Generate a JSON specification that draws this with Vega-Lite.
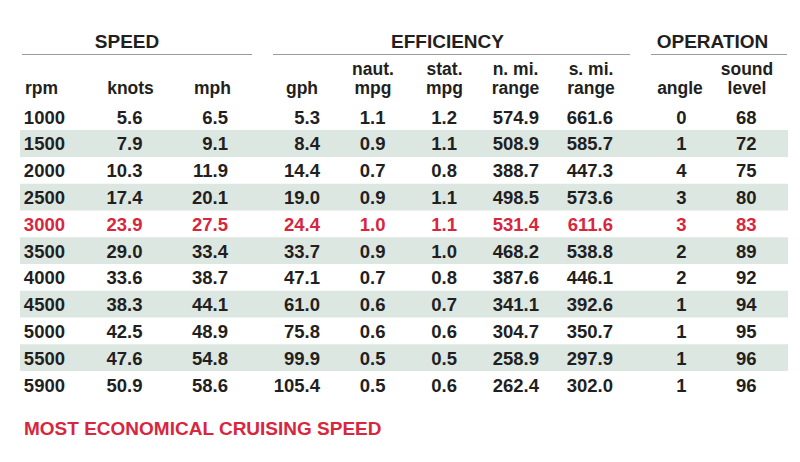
{
  "$schema": "https://vega.github.io/schema/vega-lite/v6.json",
  "width": 800,
  "height": 462,
  "autosize": {"type": "fit", "contains": "padding"},
  "padding": 0,
  "background": "white",
  "config": {"view": {"stroke": null}, "axis": {"disable": true}, "text": {"font": "Liberation Sans", "fontWeight": "bold"}},
  "datasets": {
    "table": [
      {"i": 0, "rpm": "1000", "knots": "5.6", "mph": "6.5", "gph": "5.3", "nautMpg": "1.1", "statMpg": "1.2", "nmiRange": "574.9", "smiRange": "661.6", "angle": "0", "sound": "68"},
      {"i": 1, "rpm": "1500", "knots": "7.9", "mph": "9.1", "gph": "8.4", "nautMpg": "0.9", "statMpg": "1.1", "nmiRange": "508.9", "smiRange": "585.7", "angle": "1", "sound": "72"},
      {"i": 2, "rpm": "2000", "knots": "10.3", "mph": "11.9", "gph": "14.4", "nautMpg": "0.7", "statMpg": "0.8", "nmiRange": "388.7", "smiRange": "447.3", "angle": "4", "sound": "75"},
      {"i": 3, "rpm": "2500", "knots": "17.4", "mph": "20.1", "gph": "19.0", "nautMpg": "0.9", "statMpg": "1.1", "nmiRange": "498.5", "smiRange": "573.6", "angle": "3", "sound": "80"},
      {"i": 4, "rpm": "3000", "knots": "23.9", "mph": "27.5", "gph": "24.4", "nautMpg": "1.0", "statMpg": "1.1", "nmiRange": "531.4", "smiRange": "611.6", "angle": "3", "sound": "83"},
      {"i": 5, "rpm": "3500", "knots": "29.0", "mph": "33.4", "gph": "33.7", "nautMpg": "0.9", "statMpg": "1.0", "nmiRange": "468.2", "smiRange": "538.8", "angle": "2", "sound": "89"},
      {"i": 6, "rpm": "4000", "knots": "33.6", "mph": "38.7", "gph": "47.1", "nautMpg": "0.7", "statMpg": "0.8", "nmiRange": "387.6", "smiRange": "446.1", "angle": "2", "sound": "92"},
      {"i": 7, "rpm": "4500", "knots": "38.3", "mph": "44.1", "gph": "61.0", "nautMpg": "0.6", "statMpg": "0.7", "nmiRange": "341.1", "smiRange": "392.6", "angle": "1", "sound": "94"},
      {"i": 8, "rpm": "5000", "knots": "42.5", "mph": "48.9", "gph": "75.8", "nautMpg": "0.6", "statMpg": "0.6", "nmiRange": "304.7", "smiRange": "350.7", "angle": "1", "sound": "95"},
      {"i": 9, "rpm": "5500", "knots": "47.6", "mph": "54.8", "gph": "99.9", "nautMpg": "0.5", "statMpg": "0.5", "nmiRange": "258.9", "smiRange": "297.9", "angle": "1", "sound": "96"},
      {"i": 10, "rpm": "5900", "knots": "50.9", "mph": "58.6", "gph": "105.4", "nautMpg": "0.5", "statMpg": "0.6", "nmiRange": "262.4", "smiRange": "302.0", "angle": "1", "sound": "96"}
    ],
    "cols": [
      {"key": "rpm", "c": 0, "h1": "", "h2": "rpm"},
      {"key": "knots", "c": 1, "h1": "", "h2": "knots"},
      {"key": "mph", "c": 2, "h1": "", "h2": "mph"},
      {"key": "gph", "c": 3, "h1": "", "h2": "gph"},
      {"key": "nautMpg", "c": 4, "h1": "naut.", "h2": "mpg"},
      {"key": "statMpg", "c": 5, "h1": "stat.", "h2": "mpg"},
      {"key": "nmiRange", "c": 6, "h1": "n. mi.", "h2": "range"},
      {"key": "smiRange", "c": 7, "h1": "s. mi.", "h2": "range"},
      {"key": "angle", "c": 8, "h1": "", "h2": "angle"},
      {"key": "sound", "c": 9, "h1": "sound", "h2": "level"}
    ]
  },
  "layer": [
    {
      "layer": [
        {
          "data": {"name": "table"},
          "transform": [{"filter": "datum.i % 2 === 1"}],
          "mark": {"type": "rule", "strokeWidth": 26.8, "color": "#dde7e2", "strokeCap": "butt"},
          "encoding": {
            "x": {"datum": -1, "type": "quantitative", "scale": {"domain": [-1, 0, 1, 2, 3, 4, 5, 6, 7, 8, 9, 10], "range": [20, 41.5, 130.5, 212.5, 302, 373, 444.5, 515.5, 591, 680, 747, 788], "nice": false, "zero": false}, "axis": null},
            "x2": {"datum": 10},
            "y": {"field": "i", "type": "quantitative", "scale": {"domain": [-4.358, 12.894], "range": [0, 462], "nice": false, "zero": false}, "axis": null}
          }
        },
        {
          "data": {"values": [{}]},
          "mark": {"type": "rule", "strokeWidth": 1, "color": "#9a9a9a"},
          "encoding": {
            "x": {"datum": -0.907, "type": "quantitative"},
            "x2": {"datum": 2.441},
            "y": {"datum": -2.323, "type": "quantitative"}
          }
        },
        {
          "data": {"values": [{}]},
          "mark": {"type": "rule", "strokeWidth": 1, "color": "#9a9a9a"},
          "encoding": {
            "x": {"datum": 2.676, "type": "quantitative"},
            "x2": {"datum": 7.438},
            "y": {"datum": -2.323, "type": "quantitative"}
          }
        },
        {
          "data": {"values": [{}]},
          "mark": {"type": "rule", "strokeWidth": 1, "color": "#9a9a9a"},
          "encoding": {
            "x": {"datum": 7.674, "type": "quantitative"},
            "x2": {"datum": 9.976},
            "y": {"datum": -2.323, "type": "quantitative"}
          }
        },
        {
          "data": {"values": [{}]},
          "mark": {"type": "text", "text": "SPEED", "fontSize": 19, "align": "center", "baseline": "alphabetic", "color": "#231f20"},
          "encoding": {
            "x": {"datum": 0.961, "type": "quantitative"},
            "y": {"datum": -2.554, "type": "quantitative"}
          }
        },
        {
          "data": {"values": [{}]},
          "mark": {"type": "text", "text": "EFFICIENCY", "fontSize": 19, "align": "center", "baseline": "alphabetic", "color": "#231f20"},
          "encoding": {
            "x": {"datum": 5.042, "type": "quantitative"},
            "y": {"datum": -2.554, "type": "quantitative"}
          }
        },
        {
          "data": {"values": [{}]},
          "mark": {"type": "text", "text": "OPERATION", "fontSize": 19, "align": "center", "baseline": "alphabetic", "color": "#231f20"},
          "encoding": {
            "x": {"datum": 8.485, "type": "quantitative"},
            "y": {"datum": -2.554, "type": "quantitative"}
          }
        },
        {
          "data": {"name": "cols"},
          "transform": [{"filter": "datum.h1 !== ''"}],
          "mark": {"type": "text", "fontSize": 17.5, "align": "center", "baseline": "alphabetic", "color": "#231f20"},
          "encoding": {
            "x": {"field": "c", "type": "quantitative"},
            "y": {"datum": -1.557, "type": "quantitative"},
            "text": {"field": "h1"}
          }
        },
        {
          "data": {"name": "cols"},
          "mark": {"type": "text", "fontSize": 17.5, "align": "center", "baseline": "alphabetic", "color": "#231f20"},
          "encoding": {
            "x": {"field": "c", "type": "quantitative"},
            "y": {"datum": -0.848, "type": "quantitative"},
            "text": {"field": "h2"}
          }
        },
        {
          "data": {"values": [{}]},
          "mark": {"type": "text", "text": "MOST ECONOMICAL CRUISING SPEED", "fontSize": 19, "align": "left", "baseline": "alphabetic", "dx": 4, "color": "#d7263d"},
          "encoding": {
            "x": {"datum": -1, "type": "quantitative"},
            "y": {"datum": 11.886, "type": "quantitative"}
          }
        }
      ]
    },
    {
      "data": {"name": "table"},
      "transform": [
        {"fold": ["rpm", "knots", "mph", "gph", "nautMpg", "statMpg", "nmiRange", "smiRange", "angle", "sound"], "as": ["key", "value"]},
        {"lookup": "key", "from": {"data": {"name": "cols"}, "key": "key", "fields": ["c"]}}
      ],
      "mark": {"type": "text", "fontSize": 18.5, "align": "right", "baseline": "middle", "dy": 1},
      "encoding": {
        "x": {"field": "c", "type": "quantitative", "scale": {"domain": [0, 1, 2, 3, 4, 5, 6, 7, 8, 9], "range": [65, 142.5, 228, 320, 385.5, 457, 539, 613, 686.5, 756.5], "nice": false, "zero": false}, "axis": null},
        "y": {"field": "i", "type": "quantitative", "axis": null},
        "text": {"field": "value"},
        "color": {"condition": {"test": "datum.rpm === '3000'", "value": "#d7263d"}, "value": "#231f20"}
      }
    }
  ],
  "resolve": {"scale": {"x": "independent"}}
}
